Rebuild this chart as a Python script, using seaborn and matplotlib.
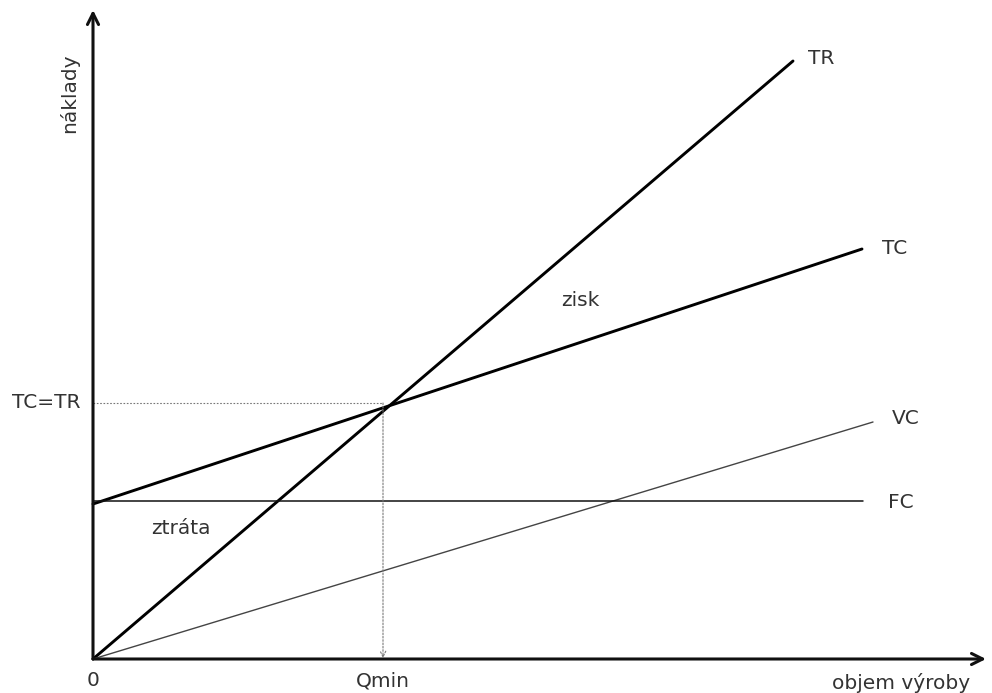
import numpy as np
import pandas as pd
import matplotlib
matplotlib.use("Agg")
import matplotlib.pyplot as plt
import seaborn as sns

# ******************* data (units: output q vs. costs)
q_tr = [0, 700]
tr = [0, 598]
q_tc = [0, 769]
tc = [155, 410]
q_vc = [0, 780]
vc = [0, 237]
q_fc = [0, 770]
fc = [158, 158]
q_min = 290
be_cost = 256

curve_names = ["TR", "TC", "VC", "FC"]

sns.set_theme(style="white")
plt.rcParams["font.family"] = ["DejaVu Sans"]

fig = plt.figure(figsize=(9.92, 6.93), dpi=100)
ax = fig.add_axes([0, 0, 1, 1])
ax.set_xlim(-93, 899)
ax.set_ylim(-34, 659)
ax.axis("off")

txt_col = "#333333"

# ******************* curves
sns.lineplot(x=q_tr, y=tr, ax=ax, color="black", linewidth=2.1)
sns.lineplot(x=q_tc, y=tc, ax=ax, color="black", linewidth=2.1)
sns.lineplot(x=q_vc, y=vc, ax=ax, color="#444444", linewidth=1.0)
sns.lineplot(x=q_fc, y=fc, ax=ax, color="#111111", linewidth=1.1)

# break-even helper lines
ax.plot([0, q_min], [be_cost, be_cost], color="#777777", linewidth=0.8, linestyle=(0, (1.5, 1.5)))
ax.annotate("", xy=(q_min, 1), xytext=(q_min, be_cost),
            arrowprops=dict(arrowstyle="->", color="#777777", lw=0.8, linestyle=(0, (1.5, 1.5)),
                            shrinkA=0, shrinkB=0, mutation_scale=10))

# ******************* axes with arrows
ax.annotate("", xy=(0, 649), xytext=(0, 0),
            arrowprops=dict(arrowstyle="->", color="#111111", lw=2.2, shrinkA=0, shrinkB=0,
                            mutation_scale=20))
ax.annotate("", xy=(893, 0), xytext=(0, 0),
            arrowprops=dict(arrowstyle="->", color="#111111", lw=2.2, shrinkA=0, shrinkB=0,
                            mutation_scale=20))

# ******************* labels
fs = 14.5
ends = {"TR": (q_tr[1], tr[1]), "TC": (q_tc[1], tc[1]), "VC": (q_vc[1], vc[1]), "FC": (q_fc[1], fc[1])}
offsets = {"TR": (15, 2), "TC": (20, 0), "VC": (19, 4), "FC": (25, -2)}
for name in curve_names:
    x, y = ends[name]
    dx, dy = offsets[name]
    ax.text(x + dx, y + dy, name, fontsize=fs, color=txt_col, ha="left", va="center")

ax.text(487, 359, "zisk", fontsize=fs, color=txt_col, ha="center", va="center")
ax.text(88, 131, "ztráta", fontsize=fs, color=txt_col, ha="center", va="center")
ax.text(-13, be_cost, "TC=TR", fontsize=fs, color=txt_col, ha="right", va="center")
ax.text(0, -22, "0", fontsize=fs, color=txt_col, ha="center", va="center")
ax.text(q_min, -22, "Qmin", fontsize=fs, color=txt_col, ha="center", va="center")
ax.text(877, -24, "objem výroby", fontsize=fs, color=txt_col, ha="right", va="center")
ax.text(-24, 566, "náklady", fontsize=fs, color=txt_col, ha="center", va="center", rotation=90)

fig.savefig("out.png", dpi=100)
